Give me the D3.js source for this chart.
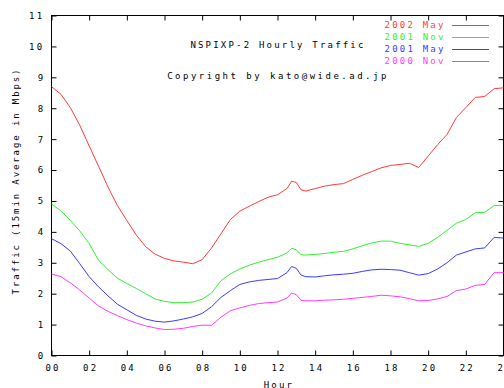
<!DOCTYPE html>
<html>
<head>
<meta charset="utf-8">
<script src="https://cdn.jsdelivr.net/npm/d3@7"></script>
<style>
  body { margin: 0; background: #fff; }
  svg { display: block; }
  text { font-family: "DejaVu Sans Mono", monospace; font-size: 9px; letter-spacing: 2.2px; }
</style>
</head>
<body>
<svg></svg>
<script>
// hours of day (shared x values)
var hours = [0,0.5,1,1.5,2,2.5,3,3.5,4,4.5,5,5.5,6,6.5,7,7.5,8,8.5,9,9.5,10,10.5,11,11.5,12,12.5,12.75,13,13.25,13.5,
             14,14.5,15,15.5,16,16.5,17,17.5,18,18.5,19,19.5,20,20.5,21,21.5,22,22.5,23,23.5,24];

var may2002 = [8.70,8.45,8.02,7.45,6.78,6.12,5.45,4.85,4.37,3.90,3.52,3.28,3.14,3.06,3.02,2.97,3.10,3.48,3.94,4.40,4.67,4.83,4.98,5.12,5.20,5.40,5.64,5.60,5.36,5.32,
               5.40,5.48,5.53,5.56,5.70,5.83,5.95,6.07,6.15,6.18,6.22,6.08,6.45,6.82,7.15,7.70,8.02,8.35,8.38,8.63,8.66];
var nov2001 = [4.90,4.68,4.37,4.03,3.62,3.08,2.78,2.50,2.33,2.17,2.00,1.83,1.75,1.71,1.71,1.73,1.82,2.02,2.42,2.64,2.80,2.92,3.02,3.10,3.18,3.32,3.47,3.42,3.26,3.25,
               3.27,3.30,3.34,3.37,3.45,3.55,3.64,3.70,3.70,3.63,3.58,3.53,3.63,3.82,4.05,4.28,4.40,4.62,4.63,4.85,4.86];
var may2001 = [3.78,3.62,3.38,2.97,2.55,2.22,1.93,1.66,1.48,1.30,1.18,1.11,1.08,1.12,1.18,1.25,1.36,1.58,1.88,2.10,2.30,2.38,2.43,2.46,2.49,2.68,2.88,2.82,2.60,2.55,
               2.54,2.58,2.61,2.63,2.66,2.72,2.77,2.79,2.78,2.76,2.68,2.60,2.65,2.80,3.00,3.25,3.35,3.45,3.48,3.82,3.80];
var nov2000 = [2.64,2.55,2.35,2.12,1.86,1.60,1.43,1.29,1.16,1.05,0.96,0.89,0.84,0.85,0.88,0.94,0.98,0.98,1.24,1.45,1.54,1.62,1.68,1.71,1.73,1.86,2.02,1.97,1.78,1.77,
               1.77,1.79,1.80,1.82,1.85,1.88,1.91,1.95,1.93,1.90,1.84,1.77,1.78,1.83,1.91,2.10,2.15,2.27,2.30,2.68,2.68];

var seriesNames = ["2002 May", "2001 Nov", "2001 May", "2000 Nov"];
var seriesData = [may2002, nov2001, may2001, nov2000];
var colors = ["#ff3a3a", "#30f030", "#3a3aff", "#ff3aff"];

var hourTicks = [0,2,4,6,8,10,12,14,16,18,20,22,24];
var valueTicks = [0,1,2,3,4,5,6,7,8,9,10,11];

var width = 504, height = 388;
var svg = d3.select('svg').attr('width', width).attr('height', height);

var x = d3.scaleLinear().domain([0, 24]).range([51.5, 503.5]);
var y = d3.scaleLinear().domain([0, 11]).range([355.5, 15.5]);

// axes, ticks pointing inward
var bottom = svg.append('g').attr('transform', 'translate(0,' + y(0) + ')')
  .call(d3.axisBottom(x).tickValues(hourTicks).tickSize(-5).tickPadding(9)
    .tickFormat(function(d){ return d3.format('02d')(d); }));
svg.append('g').attr('transform', 'translate(0,' + y(11) + ')')
  .call(d3.axisTop(x).tickValues(hourTicks).tickSize(-5).tickFormat(''));
var left = svg.append('g').attr('transform', 'translate(' + x(0) + ',0)')
  .call(d3.axisLeft(y).tickValues(valueTicks).tickSize(-5));
svg.append('g').attr('transform', 'translate(' + x(24) + ',0)')
  .call(d3.axisRight(y).tickValues(valueTicks).tickSize(-5).tickFormat(''));

svg.selectAll('.domain').remove();
svg.selectAll('.tick line').attr('stroke', '#000');
svg.selectAll('.tick text').attr('fill', '#000').attr('font-family', null).attr('font-size', null);
bottom.selectAll('.tick text').attr('dx', '1px');
left.selectAll('.tick text')
  .attr('text-anchor', 'start')
  .attr('x', function(d){ return -5 - 8.7 * String(d).length; });

// border
svg.append('rect')
  .attr('x', x(0)).attr('y', y(11))
  .attr('width', x(24) - x(0)).attr('height', y(0) - y(11))
  .attr('fill', 'none').attr('stroke', '#000');

// series lines
var line = d3.line()
  .x(function(d, i){ return x(hours[i]); })
  .y(function(d){ return y(d); });

svg.append('g').selectAll('path')
  .data(seriesData)
  .enter()
  .append('path')
  .attr('d', line)
  .attr('fill', 'none')
  .attr('stroke', function(d, i){ return colors[i]; })
  .attr('stroke-width', 1);

// titles
svg.append('text').attr('x', 278).attr('y', 48).attr('text-anchor', 'middle')
  .text('NSPIXP-2 Hourly Traffic');
svg.append('text').attr('x', 278).attr('y', 79).attr('text-anchor', 'middle')
  .style('letter-spacing', '2.5px')
  .text('Copyright by kato@wide.ad.jp');

// legend: text plus a short 1px swatch (drawn as a thin rect)
var legendRows = svg.append('g').attr('class', 'legend');
seriesNames.forEach(function(name, i){
  var rowY = 25 + 12.1 * i;
  legendRows.append('text')
    .attr('x', 445.5).attr('y', rowY + 3)
    .attr('text-anchor', 'end')
    .attr('fill', colors[i])
    .text(name);
  legendRows.append('rect')
    .attr('x', 452).attr('y', Math.round(rowY))
    .attr('width', 37).attr('height', 1)
    .attr('fill', colors[i]);
});

// axis labels
svg.append('text').attr('x', 279).attr('y', 388).attr('text-anchor', 'middle').text('Hour');
svg.append('text')
  .attr('transform', 'translate(18.5,181) rotate(-90)')
  .attr('text-anchor', 'middle')
  .style('letter-spacing', '1.9px')
  .text('Traffic (15min Average in Mbps)');
</script>
</body>
</html>
